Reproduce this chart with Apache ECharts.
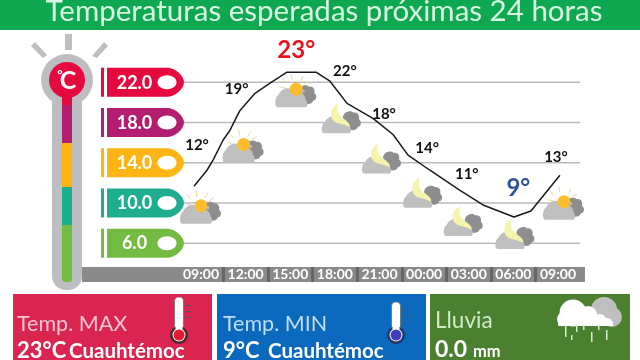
<!DOCTYPE html>
<html><head><meta charset="utf-8">
<style>html,body{margin:0;padding:0;background:#fff}#c{width:640px;height:360px}</style>
<script src="https://cdn.jsdelivr.net/npm/echarts@6/dist/echarts.min.js"></script>
</head><body><div id="c"></div>
<script>
// ---- data ----
const titleText = 'Temperaturas esperadas próximas 24 horas';
const timeLabels = ['09:00','12:00','15:00','18:00','21:00','00:00','03:00','06:00','09:00'];
const forecastHours = [0,3,6,9,12,15,18,21,24];
const forecastTemps = [12,19,23,22,18,14,11,9,13];
const forecastKinds = ['sun','sun','sun','moon','moon','moon','moon','moon','sun'];
const lineHours = [-0.47,0.40,0.81,1.48,1.95,2.62,3.63,4.64,5.78,7.73,8.67,9.82,11.56,12.91,13.92,15.39,17.41,18.96,21.04,22.18,24.13];
const lineTemps = [11.66,13.25,14.25,16.23,17.23,19.2,20.9,21.9,23,23,22.1,19.9,18.4,16.8,14.75,13.25,11.25,9.8,8.6,9.2,12.75];
const scaleLevels = [22,18,14,10,6];
const scaleColors = ['#E5093F','#B41E70','#FDB515','#1FAD8F','#74BB43'];

// ---- layout, separate from the values ----
const labelOffsets = [[-4,-38],[-9,-23],[6,-22],[10,-11],[4.5,-8],[3,-15],[-2,-19],[5,-25],[-2,-16]];
const iconOffsets = [[-1,29],[-3,38],[5,23],[6,38],[1.5,38],[-2,32],[-6,30],[1,23],[5,35]];
const FONT = 'Lato, Carlito, sans-serif';

const CLOUD_PATH = 'M2 19 C-1 19 -1 11 3 9 C6 3 15 2 18 7 C23 5 29 9 29 13 C31 14 31 19 29 19 Z';
const DARK_PATH = 'M0 6 C1 1 7 -1 10 2 C14 1 16 5 15 8 C18 10 17 15 14 15 C13 19 7 19 5 17 C2 17 0 14 1 12 Z';
function shapePath(pathData, x, y, w, h, fill) {
  return {type:'path', shape:{pathData, x, y, width:w, height:h, layout:'cover'}, style:{fill}};
}
function weatherIcon(cx, cy, kind) {
  const kids = [];
  if (kind === 'sun') {
    kids.push(shapePath(DARK_PATH, cx+3, cy-10, 18, 19, '#8E8E8E'));
    [[-9,-12,-13,-17],[-3,-15,-4,-21],[5,-14,8,-19],[9,-11,14,-14],[-10,-7,-15,-8]].forEach(s => {
      kids.push({type:'line', shape:{x1:cx+s[0], y1:cy+s[1], x2:cx+s[2], y2:cy+s[3]}, style:{stroke:'#EBD9A0', lineWidth:1}});
    });
    kids.push(shapePath(CLOUD_PATH, cx-20, cy-7, 32, 19, '#BFBFBF'));
    kids.push({type:'circle', shape:{cx:cx+1, cy:cy-6, r:6.5}, style:{fill:'#FCBC2C'}});
    kids.push({type:'circle', shape:{cx:cx+8, cy:cy-4, r:1.5}, style:{fill:'#BDBDBD'}});
  } else {
    kids.push(shapePath(DARK_PATH, cx+2, cy-9, 18, 19, '#8E8E8E'));
    kids.push(shapePath(CLOUD_PATH, cx-19, cy-4, 29, 17, '#BFBFBF'));
    kids.push(shapePath('M8 0 C0 4 -2 14 4 19 C8 22 14 21 20 25 C22 20 12 16 9 12 C7 8 7 4 8 0 Z', cx-10, cy-17, 19, 24, '#F5F3AE'));
  }
  return {type:'group', children:kids};
}

const panels = [[13,199,'#D9254F'],[217,209,'#0A69BC'],[430,200,'#4B8031']];
function txt(x, baselineY, text, size, fill, weight, align) {
  return {type:'text', z:3, x, y:baselineY - size*0.34, style:{text, font: (weight||'normal') + ' ' + size + 'px ' + FONT, fill, align:align||'left', verticalAlign:'middle'}};
}
function rect(x, y, w, h, fill, r, z) {
  return {type:'rect', z:z||1, shape:{x, y, width:w, height:h, r:r||0}, style:{fill}};
}
function circ(cx, cy, r, fill, z) {
  return {type:'circle', z:z||1, shape:{cx, cy, r}, style:{fill}};
}
function thermo(x, top, fill, stroke) {
  return [
    {type:'rect', z:2, shape:{x:x-4.5, y:top, width:9, height:332-top, r:4}, style:{fill:'#fff', stroke:'#555', lineWidth:0.6}},
    circ(x, 335, 9, stroke, 2),
    rect(x-3.5, 322, 7, 8, '#fff', 0, 2),
    circ(x, 335, 6.5, '#fff', 2),
    circ(x, 335, 5.5, fill, 3),
    rect(x+7, top+8, 5, 1, '#555', 0, 2),
    rect(x+7, top+14, 5, 1, '#555', 0, 2),
    rect(x+7, top+20, 5, 1, '#555', 0, 2)
  ];
}
const graphicEls = [
  rect(0, 0, 640, 30, '#0DA84F'),
  txt(324, 22, titleText, 29.5, '#D8F6E2', 'normal', 'center'),
  // gauge rays
  {type:'polygon', z:1, shape:{points:[[31,46],[35,42],[47,55],[43,58]]}, style:{fill:'#BDBEC2'}},
  rect(65, 34, 7, 16, '#BDBEC2'),
  {type:'polygon', z:1, shape:{points:[[92,56],[104,42],[108,46],[97,58]]}, style:{fill:'#BDBEC2'}},
  // gauge body
  circ(67, 80, 26, '#BDBEC2'),
  rect(52, 85, 30, 205, '#BDBEC2', [0,0,14,14]),
  rect(82, 267, 503, 15, '#8A8A8A'),
  rect(62, 96, 10, 9, scaleColors[0], 0, 2),
  rect(62, 105, 10, 38, scaleColors[1], 0, 2),
  rect(62, 143, 10, 44, scaleColors[2], 0, 2),
  rect(62, 187, 10, 38, scaleColors[3], 0, 2),
  rect(62, 225, 10, 57, scaleColors[4], [0,0,3,3], 2),
  circ(67, 80, 18, scaleColors[0], 2),
  txt(68, 89, 'C', 25, '#fff', 'bold', 'center'),
  txt(60, 79, '°', 13, '#fff', 'bold', 'center'),
  // bottom panels
  ...panels.map(p => rect(p[0], 294, p[1], 66, p[2])),
  txt(17, 331, 'Temp. MAX', 21.5, '#F6C4D0'),
  txt(17, 358, '23°C', 22, '#fff', 'bold'),
  txt(69, 358, 'Cuauhtémoc', 20.5, '#fff', 'bold'),
  ...thermo(179, 297, '#E5192F', '#4A2A30'),
  txt(223, 331, 'Temp. MIN', 21.5, '#BFDDF5'),
  txt(223, 358, '9°C', 22, '#fff', 'bold'),
  txt(268, 358, 'Cuauhtémoc', 20.5, '#fff', 'bold'),
  ...thermo(396, 302, '#3F3FC0', '#23356B'),
  txt(435, 328, 'Lluvia', 22.5, '#CFEBC4'),
  txt(435, 357, '0.0', 23, '#fff', 'bold'),
  txt(473, 357, 'mm', 16.5, '#fff', 'bold'),
  // rain cloud
  circ(604, 310, 13, '#BFBFBF', 2), circ(612, 317, 10, '#BFBFBF', 2), circ(596, 314, 8, '#BFBFBF', 2),
  circ(573, 313, 13.5, '#fff', 3), circ(564, 319, 7, '#fff', 3), circ(588, 315, 9, '#fff', 3), circ(600, 320, 6, '#fff', 3),
  rect(558, 318, 55, 8, '#fff', [2,6,1,1], 3),
  ...[[565,326,11],[571,335,5],[576,325,7],[583,325,5],[591,332,10],[598,325,5],[606,330,10]].map(d => rect(d[0], d[1], 1.5, d[2], '#D8EFC8', 0, 3))
];

const chart = echarts.init(document.getElementById('c'), null, {renderer:'canvas'});
chart.setOption({
  animation:false,
  backgroundColor:'#fff',
  graphic:{elements:graphicEls},
  grid:{left:178.7, top:42, width:401.6, height:241.4},
  xAxis:{
    type:'value', min:-1.5, max:25.5, z:5, offset:-1.5,
    splitLine:{show:false}, axisLine:{show:false},
    axisTick:{show:true, inside:true, length:15, customValues:[1.5,4.5,7.5,10.5,13.5,16.5,19.5,22.5], lineStyle:{color:'#666', width:3}},
    axisLabel:{
      inside:true, margin:0, customValues:forecastHours,
      color:'#fff', fontFamily:FONT, fontSize:14, fontWeight:'bold',
      hideOverlap:false, showMinLabel:true, showMaxLabel:true,
      formatter:v => timeLabels[forecastHours.indexOf(v)] || ''
    }
  },
  yAxis:{type:'value', min:2, max:26, show:false},
  series:[
    {
      type:'custom', coordinateSystem:'cartesian2d', z:2, silent:true, clip:false,
      data:scaleLevels.map((v,i) => [-1.5, v, i]),
      renderItem:(params, api) => {
        const v = api.value(1), i = api.value(2), c = scaleColors[i];
        const y = api.coord([0, v])[1], xEnd = api.coord([25.5, v])[0];
        return {type:'group', children:[
          {type:'line', shape:{x1:180, y1:y, x2:xEnd, y2:y}, style:{stroke:'#BBBBBB', lineWidth:1.5}},
          {type:'rect', shape:{x:101, y:y-14.5, width:3, height:29}, style:{fill:c}},
          {type:'path', shape:{pathData:'M0 0 H60 C68 0 77 8 77 14.5 C77 21 68 29 60 29 H0 Z', x:107, y:y-14.5, width:77, height:29, layout:'cover'}, style:{fill:c}},
          {type:'ellipse', shape:{cx:167, cy:y, rx:9.5, ry:7}, style:{fill:'#fff'}},
          {type:'text', x:134.5, y:y+0.5, style:{text:v.toFixed(1), fill:'#fff', font:'bold 18px ' + FONT, align:'center', verticalAlign:'middle'}}
        ]};
      }
    },
    {
      type:'line', z:4, silent:true, showSymbol:false, symbol:'none',
      data:lineHours.map((h,i) => [h, lineTemps[i]]),
      lineStyle:{color:'#1a1a1a', width:1.5}
    },
    {
      type:'custom', coordinateSystem:'cartesian2d', z:3, silent:true, clip:false,
      data:forecastHours.map((h,i) => [h, forecastTemps[i], i]),
      renderItem:(params, api) => {
        const i = api.value(2), p = api.coord([api.value(0), api.value(1)]);
        return weatherIcon(p[0]+iconOffsets[i][0], p[1]+iconOffsets[i][1], forecastKinds[i]);
      }
    },
    {
      type:'scatter', z:6, silent:true, symbolSize:1, itemStyle:{color:'rgba(0,0,0,0)', opacity:1},
      data:forecastHours.map((h,i) => {
        const t = forecastTemps[i];
        const big = t === 23 || t === 9;
        return {
          value:[h, t],
          label:{
            show:true, position:'inside', offset:labelOffsets[i],
            formatter:t + '°', fontFamily:FONT, fontWeight:'bold',
            fontSize:big ? 24 : 15,
            color:t === 23 ? '#E8141C' : t === 9 ? '#2F5597' : '#111'
          }
        };
      })
    }
  ]
});
</script></body></html>
